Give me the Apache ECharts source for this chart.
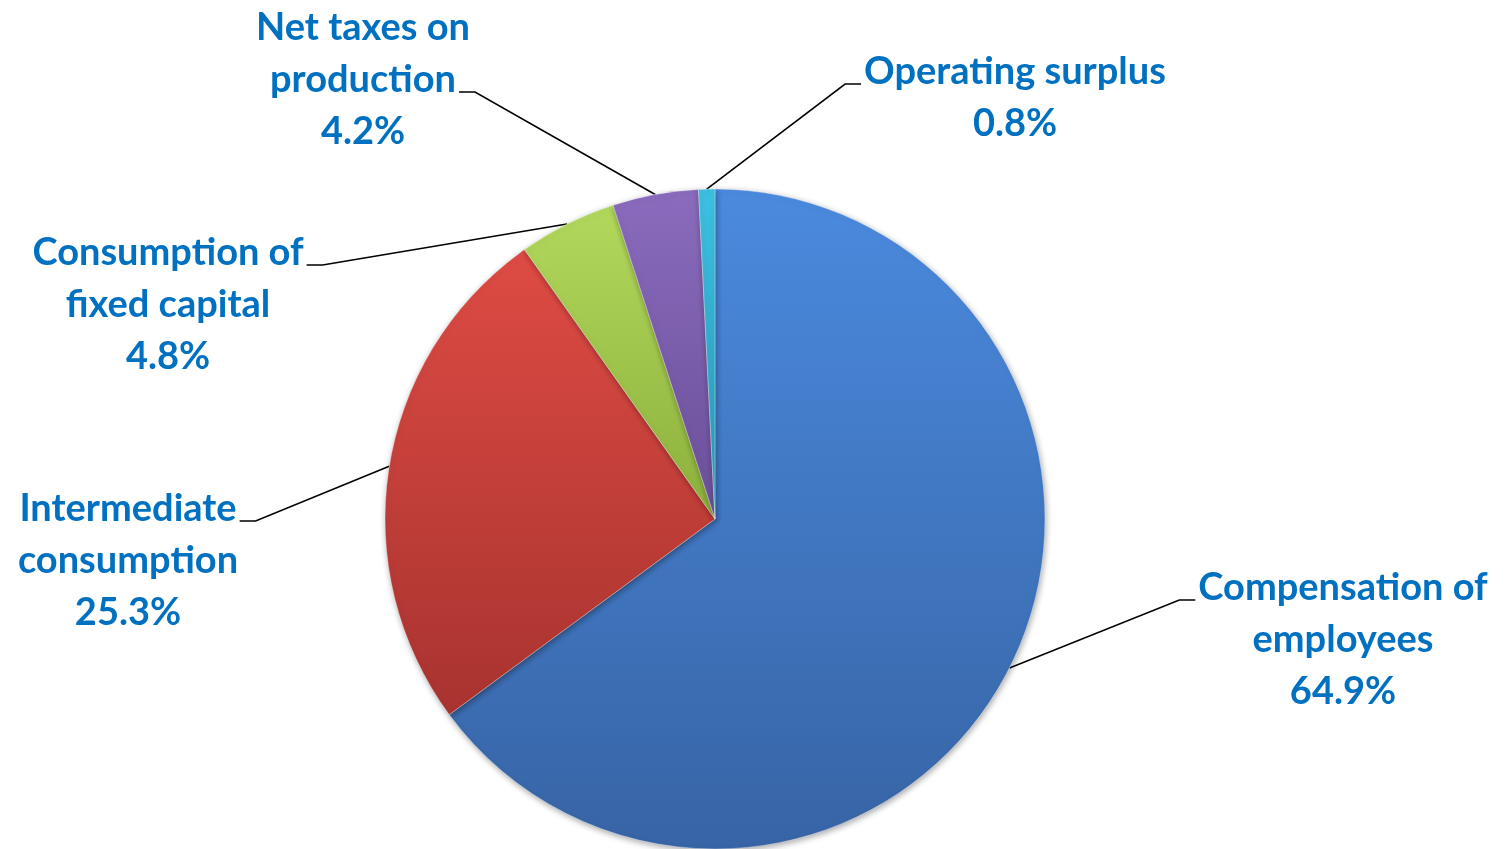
<!DOCTYPE html>
<html>
<head>
<meta charset="utf-8">
<style>
  html, body { margin: 0; padding: 0; background: #ffffff; }
  #chart { width: 1505px; height: 849px; }
</style>
<script src="https://cdn.jsdelivr.net/npm/echarts@6/dist/echarts.min.js"></script>
</head>
<body>
<div id="chart"></div>
<script>
// Components of output, share of total (%)
const categories = [
  'Compensation of\nemployees',
  'Intermediate\nconsumption',
  'Consumption of\nfixed capital',
  'Net taxes on\nproduction',
  'Operating surplus'
];
const shares = [64.9, 25.3, 4.8, 4.2, 0.8];

// Slice fills: lighter top, darker bottom
const sliceColors = [
  ['#4b8ade', '#3764a5'],
  ['#de4b44', '#a8332f'],
  ['#b2d85c', '#8cb03c'],
  ['#8a6bbd', '#6a4f98'],
  ['#3dc0e0', '#2a97b8']
];

// Label placement: centre of text block, which text line the leader
// line meets, and from which side
const labelPlaces = [
  { x: 1343, y: 640, line: 0, side: 'left' },
  { x: 128, y: 561, line: 0, side: 'right' },
  { x: 168, y: 305, line: 0, side: 'right' },
  { x: 363, y: 80, line: 1, side: 'right' },
  { x: 1015, y: 98, line: 0, side: 'left' }
];

const FONT_SIZE = 38;
const LINE_HEIGHT = 52;
const FONT = 'bold ' + FONT_SIZE + 'px Lato';

const measureCtx = document.createElement('canvas').getContext('2d');
function textWidth(s) {
  measureCtx.font = FONT;
  return measureCtx.measureText(s).width;
}

function labelText(name, value) {
  return name + '\n' + value.toFixed(1) + '%';
}

const chart = echarts.init(document.getElementById('chart'), null, { renderer: 'canvas' });

const data = categories.map((name, i) => ({
  name: name,
  value: shares[i],
  itemStyle: {
    color: {
      type: 'linear', x: 0, y: 0, x2: 0, y2: 1,
      colorStops: [
        { offset: 0, color: sliceColors[i][0] },
        { offset: 1, color: sliceColors[i][1] }
      ]
    }
  }
}));

chart.setOption({
  animation: false,
  backgroundColor: '#ffffff',
  series: [{
    type: 'pie',
    center: [715, 519],
    radius: 330,
    startAngle: 90,
    clockwise: true,
    avoidLabelOverlap: false,
    data: data,
    itemStyle: {
      borderColor: 'rgba(255,255,255,0.35)',
      borderWidth: 1,
      shadowBlur: 6,
      shadowColor: 'rgba(0,0,0,0.35)',
      shadowOffsetX: 1,
      shadowOffsetY: 2
    },
    label: {
      show: true,
      formatter: p => labelText(p.name, p.value),
      color: '#0070c0',
      fontFamily: 'Lato',
      fontWeight: 'bold',
      fontSize: FONT_SIZE,
      lineHeight: LINE_HEIGHT,
      align: 'center'
    },
    labelLine: {
      show: true,
      length: 20,
      length2: 16,
      lineStyle: { color: '#000000', width: 1.6 }
    },
    labelLayout: function (params) {
      const i = params.dataIndex;
      const p = labelPlaces[i];
      const lines = labelText(categories[i], shares[i]).split('\n');
      const n = lines.length;
      // vertical centre of the chosen text line, leader meets it a bit lower
      const lineY = p.y - LINE_HEIGHT * (n - 1) / 2 + LINE_HEIGHT * p.line + 12;
      const halfW = textWidth(lines[p.line]) / 2;
      const gap = 3;
      const endX = p.side === 'left' ? p.x - halfW - gap : p.x + halfW + gap;
      const bendX = p.side === 'left' ? endX - 16 : endX + 16;
      const result = { x: p.x, y: p.y, align: 'center', verticalAlign: 'middle' };
      if (params.labelLinePoints && params.labelLinePoints.length) {
        const anchor = params.labelLinePoints[0];
        result.labelLinePoints = [
          [anchor[0], anchor[1]],
          [bendX, lineY],
          [endX, lineY]
        ];
      }
      return result;
    },
    emphasis: { disabled: true }
  }]
});
</script>
</body>
</html>
